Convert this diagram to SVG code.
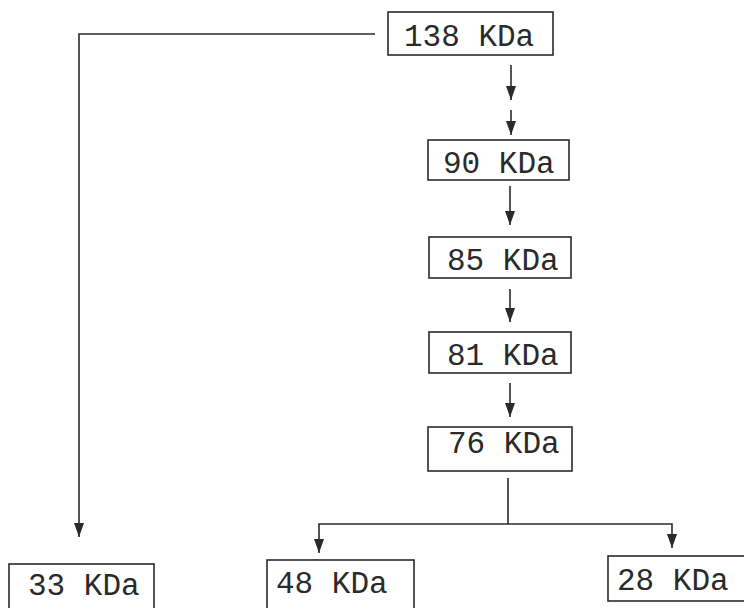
<svg xmlns="http://www.w3.org/2000/svg" width="744" height="608" viewBox="0 0 744 608">
<style>
.box{fill:none;stroke:#2a2a2a;stroke-width:1.6}
.lbl{font-family:"Liberation Mono","Courier New",monospace;font-size:31px;fill:#2a2a2a}
.ln{fill:none;stroke:#2a2a2a;stroke-width:1.6}
</style>
<defs>
<marker id="ah" viewBox="0 0 14 10" markerWidth="14" markerHeight="10" refX="14" refY="5" orient="auto" markerUnits="userSpaceOnUse">
<path d="M0,0 L14,5 L0,10 z" fill="#2a2a2a"/>
</marker>
</defs>
<rect width="744" height="608" fill="#ffffff"/>
<g id="connectors">
<path class="ln" d="M375,34 H79 V537" marker-end="url(#ah)"/>
<path class="ln" d="M511,65 V100" marker-end="url(#ah)"/>
<path class="ln" d="M511,110 V135" marker-end="url(#ah)"/>
<path class="ln" d="M510,186 V225" marker-end="url(#ah)"/>
<path class="ln" d="M510,289 V322" marker-end="url(#ah)"/>
<path class="ln" d="M510,383 V417" marker-end="url(#ah)"/>
<path class="ln" d="M508,478 V524"/>
<path class="ln" d="M508,524 H319 V553" marker-end="url(#ah)"/>
<path class="ln" d="M508,524 H672 V548" marker-end="url(#ah)"/>
</g>
<g id="n138"><rect class="box" x="388" y="12" width="165" height="43"/><text class="lbl" x="404" y="46">138 KDa</text></g>
<g id="n90"><rect class="box" x="428" y="140" width="141" height="40"/><text class="lbl" x="443" y="173">90 KDa</text></g>
<g id="n85"><rect class="box" x="429" y="237" width="142" height="41"/><text class="lbl" x="447" y="270">85 KDa</text></g>
<g id="n81"><rect class="box" x="429" y="332" width="142" height="41"/><text class="lbl" x="447" y="365">81 KDa</text></g>
<g id="n76"><rect class="box" x="428" y="427" width="144" height="44"/><text class="lbl" x="448" y="453">76 KDa</text></g>
<g id="n33"><rect class="box" x="9" y="564" width="145" height="50"/><text class="lbl" x="28" y="595">33 KDa</text></g>
<g id="n48"><rect class="box" x="267" y="560" width="147" height="54"/><text class="lbl" x="276" y="593">48 KDa</text></g>
<g id="n28"><rect class="box" x="608" y="556" width="140" height="45"/><text class="lbl" x="617" y="590">28 KDa</text></g>
</svg>
